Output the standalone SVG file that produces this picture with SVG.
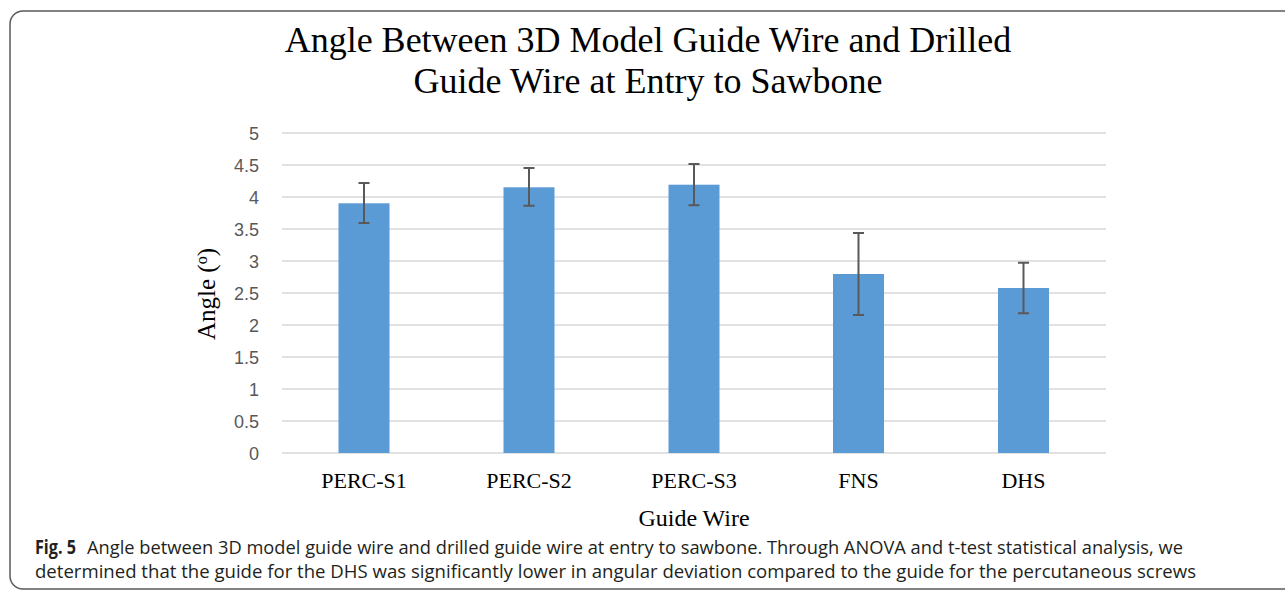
<svg xmlns="http://www.w3.org/2000/svg" width="1285" height="590" viewBox="0 0 1285 590">
<style>
.grid{stroke:#d9d9d9;stroke-width:1.5}
.tick{font-family:"Liberation Sans",Arial,sans-serif;font-size:18px;fill:#595959;text-anchor:end}
.bar{fill:#5b9bd5}
.err{stroke:#595959;stroke-width:2;fill:none}
.serif{font-family:"Liberation Serif","Times New Roman",serif;fill:#000}
.title{font-size:36px;text-anchor:middle}
.xl{font-size:22px;text-anchor:middle}
.cap{font-family:"Open Sans","Liberation Sans",sans-serif;font-size:19px;fill:#231f20}
</style>
<rect x="0" y="0" width="1285" height="590" fill="#fff"/>
<rect x="10" y="11" width="1320" height="578" rx="13" fill="none" stroke="#5a5a5a" stroke-width="1.5"/>
<g id="title" class="serif title">
<text x="648" y="52">Angle Between 3D Model Guide Wire and Drilled</text>
<text x="648" y="93">Guide Wire at Entry to Sawbone</text>
</g>
<g id="grid">
<line class="grid" x1="282" y1="133" x2="1106" y2="133"/>
<line class="grid" x1="282" y1="165" x2="1106" y2="165"/>
<line class="grid" x1="282" y1="197" x2="1106" y2="197"/>
<line class="grid" x1="282" y1="229" x2="1106" y2="229"/>
<line class="grid" x1="282" y1="261" x2="1106" y2="261"/>
<line class="grid" x1="282" y1="293" x2="1106" y2="293"/>
<line class="grid" x1="282" y1="325" x2="1106" y2="325"/>
<line class="grid" x1="282" y1="357" x2="1106" y2="357"/>
<line class="grid" x1="282" y1="389" x2="1106" y2="389"/>
<line class="grid" x1="282" y1="421" x2="1106" y2="421"/>
<line class="grid" x1="282" y1="453" x2="1106" y2="453"/>
</g>
<g id="yticks" class="tick">
<text x="259" y="139.5">5</text>
<text x="259" y="171.5">4.5</text>
<text x="259" y="203.5">4</text>
<text x="259" y="235.5">3.5</text>
<text x="259" y="267.5">3</text>
<text x="259" y="299.5">2.5</text>
<text x="259" y="331.5">2</text>
<text x="259" y="363.5">1.5</text>
<text x="259" y="395.5">1</text>
<text x="259" y="427.5">0.5</text>
<text x="259" y="459.5">0</text>
</g>
<g id="bar-perc-s1">
<rect class="bar" x="338.5" y="203.3" width="51" height="249.7"/>
<path class="err" d="M364 183V223M358.5 183H369.5M358.5 223H369.5"/>
</g>
<g id="bar-perc-s2">
<rect class="bar" x="503.5" y="187.3" width="51" height="265.7"/>
<path class="err" d="M529 168V205.7M523.5 168H534.5M523.5 205.7H534.5"/>
</g>
<g id="bar-perc-s3">
<rect class="bar" x="668.5" y="184.7" width="51" height="268.3"/>
<path class="err" d="M694 164V205.3M688.5 164H699.5M688.5 205.3H699.5"/>
</g>
<g id="bar-fns">
<rect class="bar" x="833" y="274" width="51" height="179"/>
<path class="err" d="M858.5 233V315M853 233H864M853 315H864"/>
</g>
<g id="bar-dhs">
<rect class="bar" x="998" y="288" width="51" height="165"/>
<path class="err" d="M1023.5 262.7V313.3M1018 262.7H1029M1018 313.3H1029"/>
</g>
<g id="xlabels" class="serif xl">
<text x="364" y="488">PERC-S1</text>
<text x="529" y="488">PERC-S2</text>
<text x="694" y="488">PERC-S3</text>
<text x="858.5" y="488">FNS</text>
<text x="1023.5" y="488">DHS</text>
</g>
<g id="axis-titles" class="serif">
<text x="694" y="526" font-size="24" text-anchor="middle">Guide Wire</text>
<text transform="translate(215,294) rotate(-90)" font-size="25" text-anchor="middle">Angle (<tspan font-size="16" baseline-shift="super">o</tspan>)</text>
</g>
<g id="caption" class="cap">
<text x="35" y="554" font-weight="bold" textLength="41" lengthAdjust="spacingAndGlyphs">Fig. 5</text>
<text x="87" y="554" textLength="1096" lengthAdjust="spacingAndGlyphs">Angle between 3D model guide wire and drilled guide wire at entry to sawbone. Through ANOVA and t-test statistical analysis, we</text>
<text x="35" y="578" textLength="1161" lengthAdjust="spacingAndGlyphs">determined that the guide for the DHS was significantly lower in angular deviation compared to the guide for the percutaneous screws</text>
</g>
</svg>
